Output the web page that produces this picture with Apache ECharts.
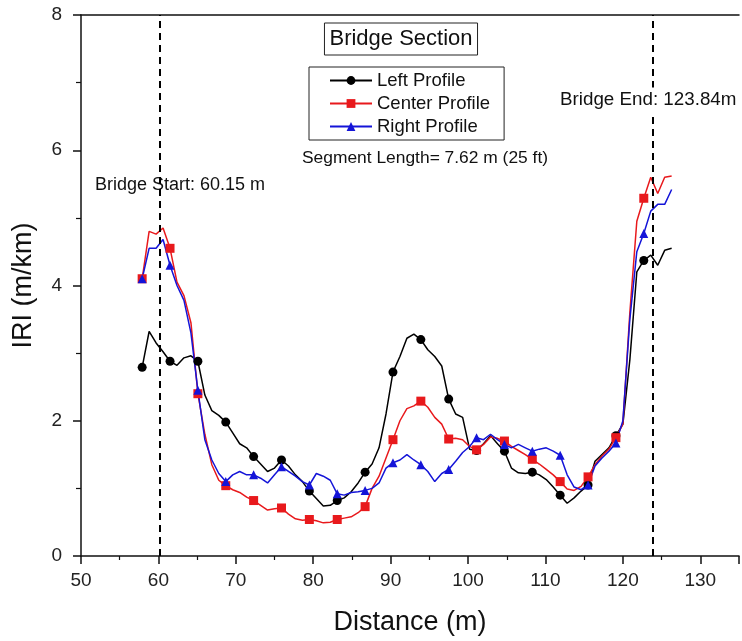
<!DOCTYPE html>
<html lang="en">
<head>
<meta charset="UTF-8" />
<title>IRI profile</title>
<style>
  * { margin: 0; padding: 0; box-sizing: border-box; }
  html, body { background: #fff; }
  #chart { width: 742px; height: 641px; }
</style>
</head>
<body>
<div id="chart"></div>
<script src="https://cdn.jsdelivr.net/npm/echarts@6/dist/echarts.min.js"></script>
<script>
// distance along the road (m)
const distances = [
  57.9, 58.8, 59.7, 60.6, 61.5, 62.4, 63.3, 64.2, 65.1, 66.0, 66.9, 67.8, 68.7, 69.6, 70.5, 71.4,
  72.3, 73.2, 74.1, 75.0, 75.9, 76.8, 77.7, 78.6, 79.5, 80.4, 81.3, 82.2, 83.1, 84.0, 84.9, 85.8,
  86.7, 87.6, 88.5, 89.4, 90.3, 91.2, 92.1, 93.0, 93.9, 94.8, 95.7, 96.6, 97.5, 98.4, 99.3, 100.2,
  101.1, 102.0, 102.9, 103.8, 104.7, 105.6, 106.5, 107.4, 108.3, 109.2, 110.1, 111.0, 111.9, 112.8,
  113.7, 114.6, 115.5, 116.4, 117.3, 118.2, 119.1, 120.0, 120.9, 121.8, 122.7, 123.6, 124.5, 125.4, 126.3
]

// IRI (m/km)
const leftProfile = [
  2.79, 3.32, 3.15, 3.02, 2.88, 2.82, 2.93, 2.96, 2.88, 2.38, 2.15, 2.08, 1.98, 1.82, 1.66, 1.60,
  1.47, 1.36, 1.25, 1.30, 1.42, 1.33, 1.20, 1.10, 0.96, 0.85, 0.74, 0.75, 0.82, 0.86, 0.95, 1.08,
  1.24, 1.36, 1.60, 2.10, 2.72, 2.95, 3.22, 3.28, 3.20, 3.05, 2.95, 2.81, 2.32, 2.10, 2.05, 1.58,
  1.56, 1.66, 1.78, 1.66, 1.55, 1.30, 1.23, 1.22, 1.24, 1.20, 1.13, 1.02, 0.90, 0.78,
  0.86, 0.96, 1.05, 1.40, 1.50, 1.60, 1.78, 1.95, 2.90, 4.20, 4.37, 4.45, 4.30, 4.52, 4.55
]
const centerProfile = [
  4.10, 4.80, 4.76, 4.85, 4.55, 4.05, 3.85, 3.45, 2.40, 1.80, 1.35, 1.12, 1.04, 0.98, 0.94, 0.87,
  0.82, 0.75, 0.68, 0.70, 0.71, 0.62, 0.55, 0.53, 0.54, 0.52, 0.49, 0.50, 0.54, 0.56, 0.58, 0.64,
  0.73, 1.00, 1.18, 1.45, 1.72, 2.00, 2.18, 2.22, 2.29, 2.20, 2.05, 1.95, 1.73, 1.74, 1.72, 1.62,
  1.57, 1.65, 1.76, 1.74, 1.70, 1.62, 1.56, 1.50, 1.43, 1.36, 1.28, 1.20, 1.10, 0.99,
  0.97, 1.03, 1.17, 1.35, 1.48, 1.58, 1.75, 1.95, 3.60, 4.95, 5.29, 5.60, 5.36, 5.60, 5.62
]
const rightProfile = [
  4.10, 4.55, 4.55, 4.68, 4.30, 4.00, 3.78, 3.30, 2.45, 1.72, 1.42, 1.22, 1.10, 1.20, 1.25, 1.20,
  1.20, 1.15, 1.08, 1.20, 1.32, 1.25, 1.18, 1.10, 1.05, 1.22, 1.18, 1.12, 0.92, 0.90, 0.94, 0.95,
  0.97, 1.00, 1.08, 1.30, 1.38, 1.42, 1.50, 1.42, 1.35, 1.25, 1.10, 1.22, 1.28, 1.40, 1.53, 1.62,
  1.75, 1.72, 1.80, 1.72, 1.65, 1.60, 1.65, 1.60, 1.55, 1.58, 1.60, 1.55, 1.49, 1.20,
  1.02, 0.98, 1.05, 1.33, 1.45, 1.55, 1.67, 2.00, 3.50, 4.50, 4.77, 5.10, 5.20, 5.20, 5.42
]

// every 4th point carries a marker, the last one at 122.7 m
const markerEvery = 4
const lastMarker = 72

const xTicks = [50, 60, 70, 80, 90, 100, 110, 120, 130]
const yTicks = [0, 2, 4, 6, 8]
const bridgeStart = 60.15
const bridgeEnd = 123.84

const font = 'Arial, "Liberation Sans", sans-serif'

function pairs(values) {
  return distances.map((d, i) => [d, values[i]])
}

function markerSize(val, params) {
  const i = params.dataIndex
  return i % markerEvery === 0 && i <= lastMarker ? 9 : 0
}

function profile(name, values, color, symbol) {
  return {
    name: name,
    type: 'line',
    data: pairs(values),
    symbol: symbol,
    symbolSize: markerSize,
    showAllSymbol: true,
    lineStyle: { color: color, width: 1.5 },
    itemStyle: { color: color },
    emphasis: { disabled: true },
    z: 3
  }
}

const chart = echarts.init(document.getElementById('chart'))

const series = [
  profile('Left Profile', leftProfile, '#000000', 'circle'),
  profile('Center Profile', centerProfile, '#e8191c', 'rect'),
  profile('Right Profile', rightProfile, '#1414d8', 'triangle')
]

// bridge limits as dashed verticals
series[0].markLine = {
  silent: true,
  symbol: 'none',
  label: { show: false },
  lineStyle: { color: '#000', type: [7, 5], width: 2 },
  data: [{ xAxis: bridgeStart }, { xAxis: bridgeEnd }]
}

chart.setOption({
  animation: false,
  backgroundColor: '#fff',
  textStyle: { fontFamily: font },
  grid: { left: 81, right: -6, top: 15, bottom: 84 },
  legend: {
    orient: 'vertical',
    left: 309,
    top: 67,
    itemWidth: 42,
    itemHeight: 11,
    itemGap: 4,
    padding: [4, 14, 4, 20],
    borderColor: '#222',
    borderWidth: 1,
    textStyle: { fontSize: 18.5, color: '#111', fontFamily: font },
    data: ['Left Profile', 'Center Profile', 'Right Profile']
  },
  xAxis: [{
    type: 'value',
    min: 50,
    max: 135,
    interval: 10,
    name: 'Distance (m)',
    nameLocation: 'middle',
    nameGap: 53,
    nameTextStyle: { fontSize: 27, color: '#111' },
    axisLine: { lineStyle: { color: '#111', width: 1.5 } },
    axisTick: { length: 8, lineStyle: { color: '#111', width: 1.5 } },
    minorTick: { show: true, splitNumber: 2, length: 4, lineStyle: { color: '#111', width: 1.2 } },
    axisLabel: {
      fontSize: 19,
      color: '#222',
      margin: 15,
      formatter: v => (xTicks.includes(v) ? String(v) : '')
    },
    splitLine: { show: false }
  }, {
    type: 'value',
    position: 'top',
    min: 50,
    max: 135,
    axisLine: { lineStyle: { color: '#111', width: 1.5 } },
    axisTick: { show: false },
    axisLabel: { show: false },
    splitLine: { show: false }
  }],
  yAxis: {
    type: 'value',
    min: 0,
    max: 8,
    interval: 2,
    name: 'IRI (m/km)',
    nameLocation: 'middle',
    nameGap: 44,
    nameTextStyle: { fontSize: 27, color: '#111' },
    axisLine: { show: true, lineStyle: { color: '#111', width: 1.5 } },
    axisTick: { show: true, length: 8, lineStyle: { color: '#111', width: 1.5 } },
    minorTick: { show: true, splitNumber: 2, length: 5, lineStyle: { color: '#111', width: 1.2 } },
    axisLabel: {
      fontSize: 19,
      color: '#222',
      margin: 19,
      formatter: v => (yTicks.includes(v) ? String(v) : '')
    },
    splitLine: { show: false }
  },
  graphic: [
    {
      type: 'text',
      x: 401,
      y: 39,
      style: {
        text: 'Bridge Section',
        font: '22px ' + font,
        fill: '#111',
        align: 'center',
        verticalAlign: 'middle',
        borderColor: '#222',
        borderWidth: 1,
        padding: [5, 5, 5, 5]
      }
    },
    {
      type: 'text',
      x: 302,
      y: 158,
      style: {
        text: 'Segment Length= 7.62 m (25 ft)',
        font: '17.4px ' + font,
        fill: '#111',
        verticalAlign: 'middle'
      }
    },
    {
      type: 'text',
      x: 95,
      y: 185,
      style: {
        text: 'Bridge Start: 60.15 m',
        font: '18px ' + font,
        fill: '#111',
        verticalAlign: 'middle'
      }
    },
    {
      type: 'text',
      x: 558,
      y: 100,
      z: 10,
      style: {
        text: 'Bridge End: 123.84m',
        font: '18.8px ' + font,
        fill: '#111',
        verticalAlign: 'middle',
        backgroundColor: '#fff',
        padding: [3, 2, 3, 2]
      }
    }
  ],
  series: series
})
</script>
</body>
</html>
